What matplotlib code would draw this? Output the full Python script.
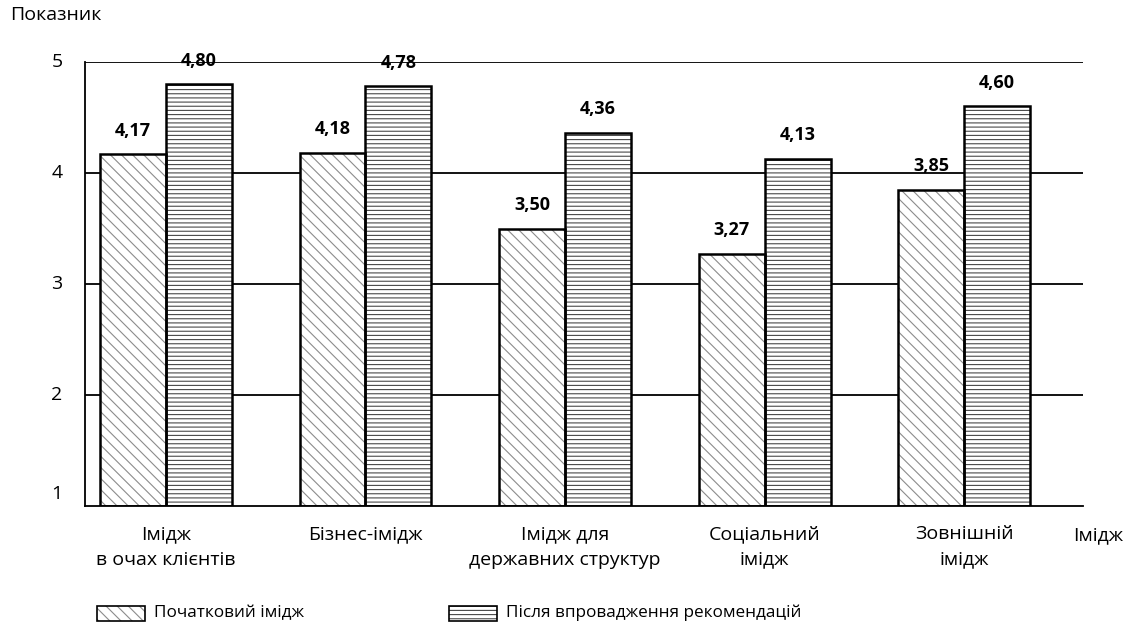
import matplotlib
matplotlib.use("Agg")
import matplotlib.pyplot as plt
import numpy as np
from matplotlib.patches import Rectangle
from matplotlib.transforms import blended_transform_factory, ScaledTranslation

plt.rcParams['font.family'] = ['Open Sans', 'DejaVu Sans']
plt.rcParams['hatch.linewidth'] = 0.8

categories = ["Імідж\nв очах клієнтів", "Бізнес-імідж", "Імідж для\nдержавних структур",
              "Соціальний\nімідж", "Зовнішній\nімідж"]
initial = [4.17, 4.18, 3.50, 3.27, 3.85]
after = [4.80, 4.78, 4.36, 4.13, 4.60]
series_names = ["Початковий імідж", "Після впровадження рекомендацій"]
yticks = [1, 2, 3, 4, 5]

DPI = 100
FS = 14
fig = plt.figure(figsize=(11.28, 6.30), dpi=DPI)
ax = fig.add_axes([85/1128, 1 - 506/630, (1083-85)/1128, (506-62)/630])

x = np.arange(len(categories))
w = 0.33
base = 1

hatch_styles = [("\\\\\\", "#8c8c8c"), ("----", "#4a4a4a")]
for vals, off, (hatch, hcol) in zip([initial, after], [-w/2, w/2], hatch_styles):
    heights = [v - base for v in vals]
    ax.bar(x + off, heights, w, bottom=base, color="white", edgecolor=hcol,
           hatch=hatch, linewidth=0, zorder=2)
    ax.bar(x + off, heights, w, bottom=base, fill=False, edgecolor="black",
           linewidth=1.8, zorder=3)
    for xi, v in zip(x + off, vals):
        ax.annotate(f"{v:.2f}".replace(".", ","), (xi, v), xytext=(0, 10.5),
                    textcoords="offset points", ha="center", va="bottom",
                    fontsize=13, fontweight="bold", clip_on=False, zorder=4)

ax.set_xlim(-0.405, len(categories) - 1 + 0.595)
ax.set_ylim(1, 5)
for yv in yticks[1:]:
    ax.axhline(yv, color="black", linewidth=1.3, zorder=1)
for s in ["top", "right"]:
    ax.spines[s].set_visible(False)
ax.spines["left"].set_linewidth(1.3)
ax.spines["bottom"].set_linewidth(1.3)
ax.set_xticks([])
ax.set_yticks([])

# y-axis labels
ytrans = blended_transform_factory(ax.transAxes, ax.transData)
for yv in yticks:
    dy = 12 / DPI if yv == 1 else 0
    ax.text(-28/998, yv, str(yv), transform=ytrans + ScaledTranslation(0, dy, fig.dpi_scale_trans),
            ha="center", va="center", fontsize=FS)

# category labels
xtrans = blended_transform_factory(ax.transData, ax.transAxes)
for xi, lab in zip(x, categories):
    ax.text(xi, 0, lab, transform=xtrans + ScaledTranslation(0, -19/DPI, fig.dpi_scale_trans),
            ha="center", va="top", fontsize=FS, linespacing=1.55)

fig.text(1073/1128, 1 - 535/630, "Імідж", ha="left", va="center", fontsize=FS)
fig.text(10/1128, 1 - 15/630, "Показник", ha="left", va="center", fontsize=FS)

# legend
leg_items = [(97, series_names[0], hatch_styles[0]), (449, series_names[1], hatch_styles[1])]
for px, name, (hatch, hcol) in leg_items:
    r = Rectangle((px/1128, 1 - 621/630), 48/1128, 15/630, transform=fig.transFigure,
                  facecolor="white", edgecolor=hcol, hatch=hatch, linewidth=0)
    fig.patches.append(r)
    r2 = Rectangle((px/1128, 1 - 621/630), 48/1128, 15/630, transform=fig.transFigure,
                   fill=False, edgecolor="black", linewidth=1.2)
    fig.patches.append(r2)
    fig.text((px + 57)/1128, 1 - 613/630, name, ha="left", va="center", fontsize=12.3)

fig.savefig("out.png", dpi=DPI)
